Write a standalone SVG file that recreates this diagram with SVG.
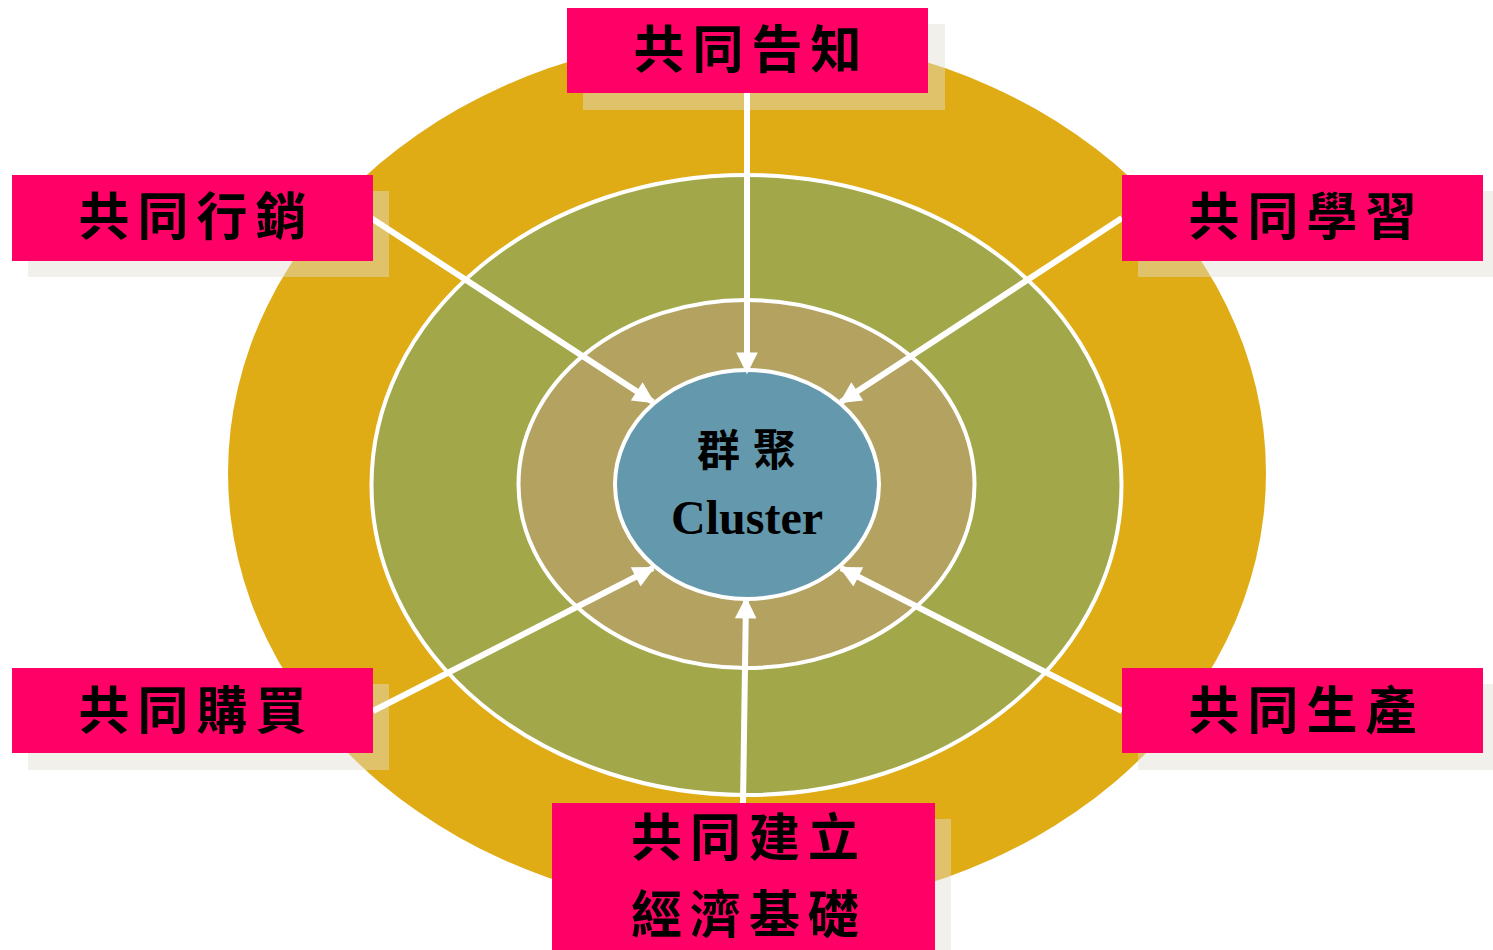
<svg xmlns="http://www.w3.org/2000/svg" width="1493" height="950" viewBox="0 0 1493 950">
<style>
.ring{stroke:#FFFFFF;stroke-width:4}
.shadow{fill:rgb(224,222,210);fill-opacity:0.45}
.box{fill:#FF0066}
.lbl{font-family:"Noto Sans CJK TC","Noto Sans CJK SC",sans-serif;font-weight:700;font-size:51px;letter-spacing:8px;fill:#000000;text-anchor:middle}
.conn{stroke:#FFFFFF;stroke-width:6;fill:none;marker-end:url(#arr)}
</style>
<defs>
<marker id="arr" viewBox="0 0 10 10" refX="9" refY="5" markerWidth="4" markerHeight="3.6" orient="auto" markerUnits="strokeWidth">
<path d="M0,0 L10,5 L0,10 z" fill="#FFFFFF"/>
</marker>
</defs>
<rect x="0" y="0" width="1493" height="950" fill="#FFFFFF"/>
<g id="rings">
<ellipse cx="747" cy="473" rx="519" ry="438" fill="#E0AC16"/>
<ellipse class="ring" cx="746.5" cy="485" rx="375" ry="310" fill="#A2A84A"/>
<ellipse class="ring" cx="746.5" cy="484" rx="228" ry="184" fill="#B3A260"/>
</g>
<g id="shadows">
<rect class="shadow" x="583" y="24" width="362" height="86"/>
<rect class="shadow" x="28" y="191" width="361" height="86"/>
<rect class="shadow" x="1138" y="191" width="361" height="86"/>
<rect class="shadow" x="28" y="684" width="361" height="86"/>
<rect class="shadow" x="1138" y="684" width="361" height="86"/>
<rect class="shadow" x="568" y="819" width="383" height="140"/>
</g>
<g id="center">
<ellipse class="ring" cx="747" cy="484.5" rx="132" ry="114.5" fill="#6499AD"/>
<text x="753" y="466" style="font-family:'Noto Sans CJK TC','Noto Sans CJK SC',sans-serif;font-weight:700;font-size:43px;letter-spacing:13px;text-anchor:middle" fill="#000000">群聚</text>
<text x="747" y="534" style="font-family:'Liberation Serif',serif;font-weight:700;font-size:48px;text-anchor:middle" fill="#000000">Cluster</text>
</g>
<g id="connectors">
<line class="conn" x1="747" y1="93" x2="747" y2="372"/>
<line class="conn" x1="371" y1="218" x2="653" y2="402"/>
<line class="conn" x1="1122" y1="218" x2="841" y2="402"/>
<line class="conn" x1="373" y1="711" x2="653" y2="568"/>
<line class="conn" x1="1122" y1="711" x2="841" y2="568"/>
<line class="conn" x1="743" y1="803" x2="746" y2="599"/>
</g>
<g id="n-top">
<rect class="box" x="567" y="8" width="361" height="85"/>
<text class="lbl" x="751.5" y="68">共同告知</text>
</g>
<g id="n-topleft">
<rect class="box" x="12" y="175" width="361" height="86"/>
<text class="lbl" x="196.5" y="235">共同行銷</text>
</g>
<g id="n-topright">
<rect class="box" x="1122" y="175" width="361" height="86"/>
<text class="lbl" x="1306.5" y="235">共同學習</text>
</g>
<g id="n-bottomleft">
<rect class="box" x="12" y="668" width="361" height="85"/>
<text class="lbl" x="196.5" y="729">共同購買</text>
</g>
<g id="n-bottomright">
<rect class="box" x="1122" y="668" width="361" height="85"/>
<text class="lbl" x="1306.5" y="729">共同生產</text>
</g>
<g id="n-bottom">
<rect class="box" x="552" y="803" width="383" height="147"/>
<text class="lbl" x="749" y="856">共同建立</text>
<text class="lbl" x="749" y="933">經濟基礎</text>
</g>
</svg>
